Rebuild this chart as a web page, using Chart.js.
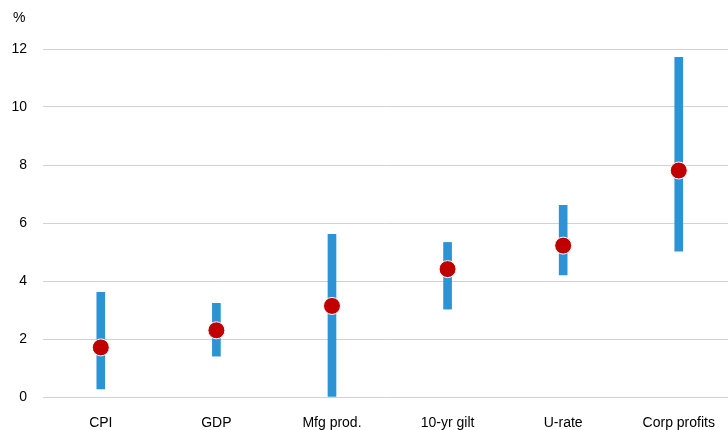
<!DOCTYPE html>
<html>
<head>
<meta charset="utf-8">
<script src="https://cdn.jsdelivr.net/npm/chart.js@4/dist/chart.umd.min.js"></script>
<style>
  html, body { margin: 0; padding: 0; background: #fff; overflow: hidden; }
  #wrap { position: relative; width: 728px; height: 430px; }
  #unit { position: absolute; left: 13px; top: 9px; font: 14px "Liberation Sans", Arial, sans-serif; color: #000; }
</style>
</head>
<body>
<div id="wrap">
  <div id="unit">%</div>
  <canvas id="rangeChart" width="728" height="430"></canvas>
</div>
<script>
const categories = ['CPI', 'GDP', 'Mfg prod.', '10-yr gilt', 'U-rate', 'Corp profits'];
const lows = [0.28, 1.41, 0.0, 3.03, 4.21, 5.03];
const highs = [3.61, 3.23, 5.61, 5.33, 6.61, 11.71];
const central = [1.71, 2.30, 3.14, 4.41, 5.22, 7.81];
const yTicks = [0, 2, 4, 6, 8, 10, 12];

const ranges = lows.map((lo, i) => ({ x: i, y: [lo, highs[i]] }));
const points = central.map((v, i) => ({ x: i, y: v }));

const font = { family: '"Liberation Sans", Arial, sans-serif', size: 14 };

const ctx = document.getElementById('rangeChart').getContext('2d');
const chart = new Chart(ctx, {
  type: 'bar',
  data: {
    datasets: [
      {
        type: 'bar',
        label: 'Range',
        data: ranges,
        backgroundColor: '#2C93D5',
        barThickness: 8,
        borderSkipped: false,
        order: 2
      },
      {
        type: 'line',
        label: 'Central',
        data: points,
        showLine: false,
        pointRadius: 8.5,
        pointBackgroundColor: '#C00000',
        pointBorderColor: '#ffffff',
        pointBorderWidth: 1,
        order: 1
      }
    ]
  },
  options: {
    responsive: false,
    maintainAspectRatio: false,
    animation: false,
    layout: { autoPadding: false, padding: { top: 49, right: 0, left: 0, bottom: 0 } },
    plugins: {
      legend: { display: false },
      tooltip: { enabled: false }
    },
    scales: {
      x: {
        type: 'linear',
        offset: false,
        // last category band is cut off by the right edge in the original
        min: -0.5,
        max: 5.426,
        afterBuildTicks: (scale) => { scale.ticks = categories.map((c, i) => ({ value: i })); },
        grid: { display: false },
        border: { display: false },
        ticks: {
          padding: 10,
          color: '#000',
          font: font,
          callback: (v) => categories[v]
        },
        afterFit: (scale) => { scale.height = 33; }
      },
      y: {
        min: 0,
        max: 12,
        afterBuildTicks: (scale) => { scale.ticks = yTicks.map(v => ({ value: v })); },
        grid: { color: '#d2d2d2', lineWidth: 1, drawTicks: false },
        border: { display: false },
        ticks: {
          padding: 16,
          color: '#000',
          font: font
        },
        afterFit: (scale) => { scale.width = 43; }
      }
    }
  }
});
</script>
</body>
</html>
